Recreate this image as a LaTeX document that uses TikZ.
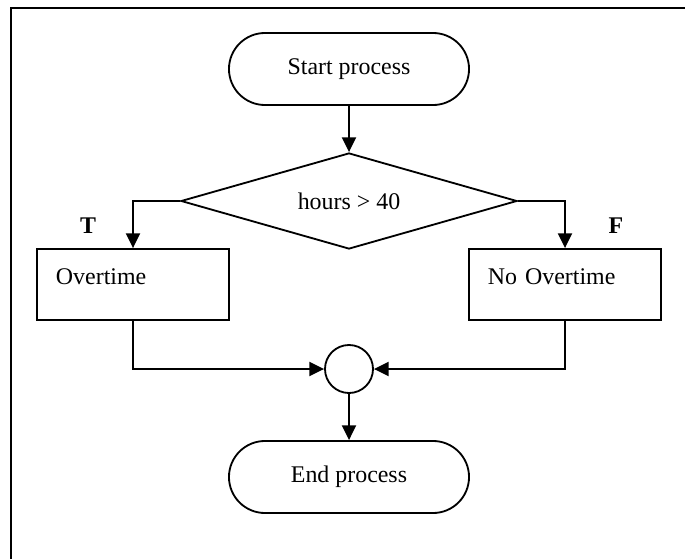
\documentclass[tikz,border=0pt]{standalone}
\usepackage{fontspec}
\setmainfont{Liberation Serif}
\usepackage{tikz}
\usetikzlibrary{arrows.meta,positioning,shapes.geometric,shapes.misc}
\tikzset{
  fc/.style={x=0.025cm, y=-0.025cm, >={Triangle[length=10.5pt,width=10pt]}, line width=1.3pt,
             every node/.style={draw, line width=1.3pt, font=\fontsize{17}{20}\selectfont, inner sep=0pt}},
  term/.style={rounded rectangle, minimum width=6cm, minimum height=1.8cm},
  decision/.style={diamond, shape aspect=3.5, minimum width=8.4cm, minimum height=2.4cm},
  act/.style={rectangle, inner xsep=0.475cm, text width=3.85cm, align=left, text height=0.875cm, text depth=0.9cm},
  mergept/.style={circle, minimum size=1.2cm},
  flow/.style={->},
  tf/.style={draw=none, font=\fontsize{17}{20}\selectfont\bfseries}
}

\begin{document}
\begin{tikzpicture}[fc]
\useasboundingbox (0,0) rectangle (685,559);
\draw (11,575) |- (685.5,8) -- (685.5,575);
\node[term] (start) at (349,69) {Start process};
\node[decision] (hrs) at (349,201) {hours > 40};
\node[act] (ot) at (133,284.5) {Overtime};
\node[act] (not) at (565,284.5) {No Overtime};
\node[mergept] (mrg) at (349,369) {};
\node[term] (stop) at (349,477) {End process};
\node[tf] (t) at (88,226) {T};
\node[tf] (f) at (616,226) {F};
\draw[flow] (start) -- (hrs);
\draw[flow] (hrs.west) -| (ot.north); \draw[flow] (hrs.east) -| (not.north);
\draw[flow] (ot.south) |- (mrg.west); \draw[flow] (not.south) |- (mrg.east);
\draw[flow] (mrg) -- (stop);
\end{tikzpicture}
\end{document}
